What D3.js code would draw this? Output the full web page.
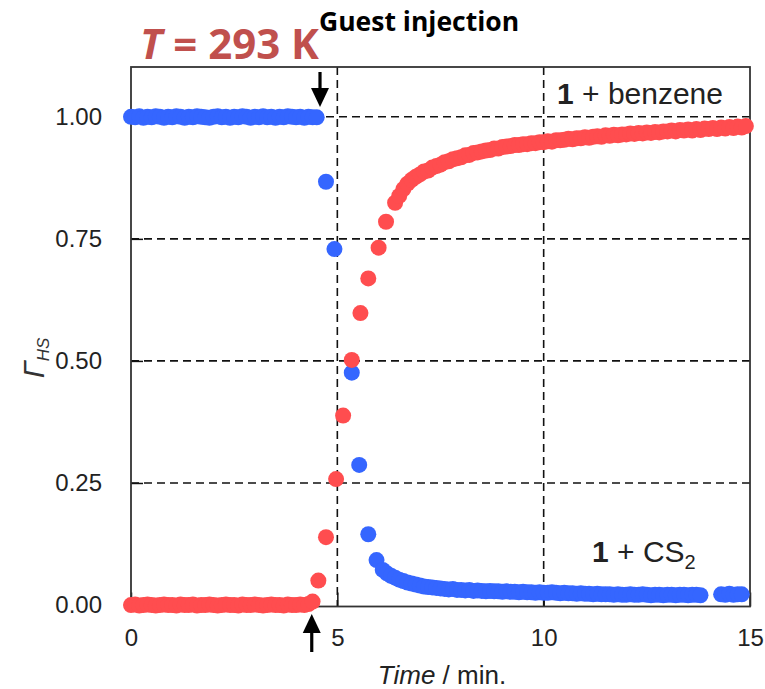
<!DOCTYPE html>
<html>
<head>
<meta charset="utf-8">
<script src="https://cdn.jsdelivr.net/npm/d3@7"></script>
<style>
  html, body { margin: 0; padding: 0; background: #fff; }
  svg { display: block; }
</style>
</head>
<body>
<svg id="chart" width="765" height="689"></svg>
<script>
// ---------------- DATA ----------------
const xTicks = [0, 5, 10, 15];
const yTicks = [0.00, 0.25, 0.50, 0.75, 1.00];
const yTickLabels = ["0.00", "0.25", "0.50", "0.75", "1.00"];
const xGridValues = [5, 10];
const yGridValues = [0.25, 0.50, 0.75, 1.00];

// 1 + CS2 (blue)
const cs2Time = [
  0.0, 0.1, 0.2, 0.3, 0.4, 0.5, 0.6, 0.7, 0.8, 0.9, 1.0, 1.1, 1.2, 1.3, 1.4, 1.5, 1.6, 1.7, 1.8, 1.9,
  2.0, 2.1, 2.2, 2.3, 2.4, 2.5, 2.6, 2.7, 2.8, 2.9, 3.0, 3.1, 3.2, 3.3, 3.4, 3.5, 3.6, 3.7, 3.8, 3.9,
  4.0, 4.1, 4.2, 4.3, 4.4, 4.5,
  4.725, 4.93, 5.35, 5.53, 5.75, 5.95,
  6.1, 6.2, 6.3, 6.4, 6.5, 6.6, 6.7, 6.8, 6.9, 7.0, 7.1, 7.2, 7.3, 7.4, 7.5, 7.6, 7.7, 7.8, 7.9, 8.0,
  8.1, 8.2, 8.3, 8.4, 8.5, 8.6, 8.7, 8.8, 8.9, 9.0, 9.1, 9.2, 9.3, 9.4, 9.5, 9.6, 9.7, 9.8, 9.9, 10.0,
  10.1, 10.2, 10.3, 10.4, 10.5, 10.6, 10.7, 10.8, 10.9, 11.0, 11.1, 11.2, 11.3, 11.4, 11.5, 11.6, 11.7, 11.8, 11.9, 12.0,
  12.1, 12.2, 12.3, 12.4, 12.5, 12.6, 12.7, 12.8, 12.9, 13.0, 13.1, 13.2, 13.3, 13.4, 13.5, 13.6, 13.7, 13.8,
  14.3, 14.4, 14.5, 14.6, 14.7, 14.8];
const cs2Value = [
  1.000, 0.999, 1.001, 0.998, 1.000, 0.999, 1.001, 1.000, 0.998, 1.000, 0.999, 1.001, 1.000, 0.998, 1.000, 0.999, 1.001, 1.000, 0.999, 0.998,
  1.000, 1.001, 0.999, 1.000, 0.998, 1.000, 0.999, 1.001, 1.000, 0.998, 1.000, 0.999, 1.001, 0.999, 1.000, 0.998, 1.000, 0.999, 1.001, 1.000,
  0.999, 1.000, 0.998, 1.000, 0.999, 0.999,
  0.867, 0.729, 0.476, 0.287, 0.145, 0.092,
  0.072, 0.065, 0.060, 0.056, 0.052, 0.049, 0.046, 0.044, 0.042, 0.040, 0.038, 0.037, 0.036, 0.035, 0.034, 0.033, 0.032, 0.033, 0.031, 0.031,
  0.030, 0.031, 0.029, 0.030, 0.029, 0.028, 0.029, 0.028, 0.028, 0.027, 0.028, 0.027, 0.027, 0.026, 0.027, 0.026, 0.026, 0.025, 0.026, 0.025,
  0.025, 0.026, 0.025, 0.024, 0.025, 0.024, 0.024, 0.023, 0.024, 0.023, 0.023, 0.022, 0.023, 0.022, 0.022, 0.022, 0.021, 0.022, 0.021, 0.021,
  0.022, 0.021, 0.021, 0.022, 0.021, 0.020, 0.021, 0.021, 0.020, 0.021, 0.021, 0.020, 0.021, 0.021, 0.020, 0.021, 0.021, 0.020,
  0.022, 0.021, 0.023, 0.021, 0.022, 0.022];

// 1 + benzene (red)
const benzeneTime = [
  0.0, 0.1, 0.2, 0.3, 0.4, 0.5, 0.6, 0.7, 0.8, 0.9, 1.0, 1.1, 1.2, 1.3, 1.4, 1.5, 1.6, 1.7, 1.8, 1.9,
  2.0, 2.1, 2.2, 2.3, 2.4, 2.5, 2.6, 2.7, 2.8, 2.9, 3.0, 3.1, 3.2, 3.3, 3.4, 3.5, 3.6, 3.7, 3.8, 3.9,
  4.0, 4.1, 4.2, 4.3, 4.4,
  4.54, 4.725, 4.97, 5.14, 5.35, 5.56, 5.75, 6.0, 6.18, 6.40,
  6.5, 6.6, 6.7, 6.8, 6.9, 7.0, 7.1, 7.2, 7.3, 7.4, 7.5, 7.6, 7.7, 7.8, 7.9, 8.0,
  8.1, 8.2, 8.3, 8.4, 8.5, 8.6, 8.7, 8.8, 8.9, 9.0, 9.1, 9.2, 9.3, 9.4, 9.5, 9.6, 9.7, 9.8, 9.9, 10.0,
  10.1, 10.2, 10.3, 10.4, 10.5, 10.6, 10.7, 10.8, 10.9, 11.0, 11.1, 11.2, 11.3, 11.4, 11.5, 11.6, 11.7, 11.8, 11.9, 12.0,
  12.1, 12.2, 12.3, 12.4, 12.5, 12.6, 12.7, 12.8, 12.9, 13.0, 13.1, 13.2, 13.3, 13.4, 13.5, 13.6, 13.7, 13.8, 13.9, 14.0,
  14.1, 14.2, 14.3, 14.4, 14.5, 14.6, 14.7, 14.8, 14.9];
const benzeneValue = [
  0.000, 0.001, -0.001, 0.000, 0.001, 0.000, -0.001, 0.000, 0.001, 0.000, 0.000, -0.001, 0.001, 0.000, 0.000, 0.001, -0.001, 0.000, 0.000, 0.001,
  0.000, -0.001, 0.000, 0.001, 0.000, 0.000, -0.001, 0.001, 0.000, 0.000, 0.001, 0.000, -0.001, 0.000, 0.001, 0.000, 0.000, -0.001, 0.001, 0.000,
  0.000, 0.001, 0.000, 0.002, 0.007,
  0.050, 0.139, 0.258, 0.388, 0.502, 0.598, 0.669, 0.732, 0.785, 0.824,
  0.838, 0.852, 0.863, 0.871, 0.877, 0.882, 0.888, 0.890, 0.896, 0.899, 0.902, 0.907, 0.909, 0.913, 0.915, 0.917,
  0.921, 0.922, 0.926, 0.927, 0.929, 0.931, 0.932, 0.935, 0.935, 0.938, 0.939, 0.940, 0.942, 0.942, 0.944, 0.944, 0.946, 0.946, 0.948, 0.948,
  0.950, 0.949, 0.952, 0.952, 0.953, 0.955, 0.954, 0.956, 0.956, 0.958, 0.957, 0.959, 0.960, 0.959, 0.962, 0.961, 0.963, 0.962, 0.964, 0.964,
  0.966, 0.965, 0.967, 0.966, 0.968, 0.967, 0.969, 0.968, 0.970, 0.970, 0.972, 0.970, 0.973, 0.972, 0.974, 0.972, 0.975, 0.973, 0.976, 0.975,
  0.977, 0.975, 0.978, 0.976, 0.979, 0.977, 0.980, 0.978, 0.981];

// ---------------- LAYOUT ----------------
const svg = d3.select("#chart");
const plot = { left: 131, right: 750, top: 67, bottom: 606.5 };

const x = d3.scaleLinear().domain([0, 15]).range([plot.left, plot.right]);
const y = d3.scaleLinear().domain([-0.003, 1.102]).range([plot.bottom, plot.top]);

const tickFont = "'Liberation Sans', Arial, sans-serif";
const textColor = "#222";

// gridlines
svg.append("g").selectAll("line").data(xGridValues).join("line")
  .attr("x1", d => x(d)).attr("x2", d => x(d))
  .attr("y1", plot.top).attr("y2", plot.bottom)
  .attr("stroke", "#111").attr("stroke-width", 1.6)
  .attr("stroke-dasharray", "8,5");
svg.append("g").selectAll("line").data(yGridValues).join("line")
  .attr("x1", plot.left).attr("x2", plot.right)
  .attr("y1", d => y(d)).attr("y2", d => y(d))
  .attr("stroke", "#111").attr("stroke-width", 1.6)
  .attr("stroke-dasharray", "8,5");

// axes (inward ticks)
const xAxis = d3.axisBottom(x).tickValues(xTicks).tickSizeInner(-14).tickSizeOuter(0).tickFormat(d3.format("d")).tickPadding(22);
const gx = svg.append("g").attr("transform", `translate(0,${plot.bottom})`).call(xAxis);
gx.select(".domain").remove();
gx.selectAll(".tick line").attr("stroke", "#111").attr("stroke-width", 1.5);
gx.selectAll(".tick text").attr("font-family", tickFont).attr("font-size", 24).attr("fill", textColor);

const yAxis = d3.axisLeft(y).tickValues(yTicks).tickSizeInner(-12).tickSizeOuter(0)
  .tickFormat((d, i) => yTickLabels[i]).tickPadding(29);
const gy = svg.append("g").attr("transform", `translate(${plot.left},0)`).call(yAxis);
gy.select(".domain").remove();
gy.selectAll(".tick line").attr("stroke", "#111").attr("stroke-width", 1.5);
gy.selectAll(".tick text").attr("font-family", tickFont).attr("font-size", 24).attr("fill", textColor);

// frame
svg.append("rect")
  .attr("x", plot.left).attr("y", plot.top)
  .attr("width", plot.right - plot.left).attr("height", plot.bottom - plot.top)
  .attr("fill", "none").attr("stroke", "#333").attr("stroke-width", 1.8);

// data
const cs2 = cs2Time.map((t, i) => ({ t, v: cs2Value[i] }));
const benz = benzeneTime.map((t, i) => ({ t, v: benzeneValue[i] }));
const R = 8;
svg.append("g").selectAll("circle").data(cs2).join("circle")
  .attr("cx", d => x(d.t)).attr("cy", d => y(d.v)).attr("r", R).attr("fill", "#3566ff");
svg.append("g").selectAll("circle").data(benz).join("circle")
  .attr("cx", d => x(d.t)).attr("cy", d => y(d.v)).attr("r", R).attr("fill", "#ff4d4f");

// series labels
const lab1 = svg.append("text").attr("x", 557).attr("y", 104)
  .attr("font-family", tickFont).attr("font-size", 30).attr("fill", textColor);
lab1.append("tspan").attr("font-weight", "bold").text("1");
lab1.append("tspan").text(" + benzene");

const lab2 = svg.append("text").attr("x", 592).attr("y", 562)
  .attr("font-family", tickFont).attr("font-size", 30).attr("fill", textColor);
lab2.append("tspan").attr("font-weight", "bold").text("1");
lab2.append("tspan").text(" + CS");
lab2.append("tspan").attr("font-size", 20).attr("dy", 7).text("2");

// axis titles
const xt = svg.append("text").attr("x", 442).attr("y", 684).attr("text-anchor", "middle")
  .attr("font-family", tickFont).attr("font-size", 26).attr("fill", textColor);
xt.append("tspan").attr("font-style", "italic").text("Time");
xt.append("tspan").text(" / min.");

const yt = svg.append("text").attr("transform", "translate(44,358) rotate(-90)").attr("text-anchor", "middle")
  .attr("font-family", tickFont).attr("fill", "#333").attr("font-style", "italic");
yt.append("tspan").attr("font-size", 30).text("Γ");
yt.append("tspan").attr("font-size", 17).attr("dy", 5).text("HS");

// title annotations
const tt = svg.append("text").attr("x", 140).attr("y", 59)
  .attr("font-family", "'Open Sans', sans-serif").attr("font-weight", "bold").attr("font-size", 42).attr("fill", "#c0504d");
tt.append("tspan").attr("font-style", "italic").text("T");
tt.append("tspan").text(" = 293 K");

svg.append("text").attr("x", 319).attr("y", 31)
  .attr("font-family", "'Open Sans', sans-serif").attr("font-weight", "bold").attr("font-size", 26.5).attr("fill", "#000")
  .text("Guest injection");

// arrows
function arrow(xp, yTail, yTip) {
  const dir = yTip > yTail ? 1 : -1;
  const headLen = 19, headHalf = 9;
  svg.append("line").attr("x1", xp).attr("x2", xp)
    .attr("y1", yTail).attr("y2", yTip - dir * headLen + dir * 2)
    .attr("stroke", "#000").attr("stroke-width", 3.2);
  svg.append("path")
    .attr("d", `M${xp - headHalf},${yTip - dir * headLen} L${xp + headHalf},${yTip - dir * headLen} L${xp},${yTip} Z`)
    .attr("fill", "#000");
}
arrow(x(4.58), 72, 107);
arrow(x(4.38), 652, 614);
</script>
</body>
</html>
